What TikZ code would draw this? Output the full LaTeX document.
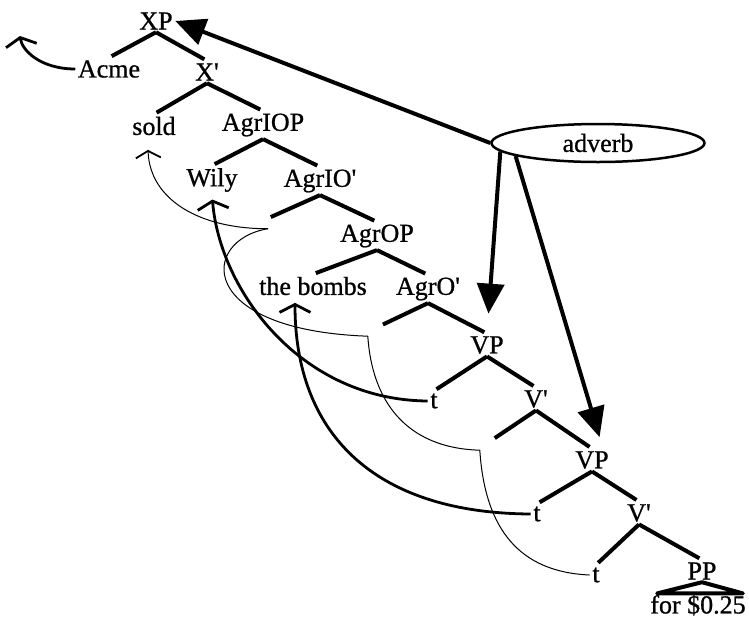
\documentclass[tikz,border=0pt]{standalone}
\usepackage{fontspec}
\setmainfont{Liberation Serif}
\newfontfamily\treefont{Liberation Serif}[FakeBold=0.8]
\usepackage{tikz}
\usetikzlibrary{arrows.meta,
	shapes.geometric
}
\tikzset{syntree/.style = {
		every node/.style = {inner sep=2.5pt, font=\treefont\fontsize{26}{30}\selectfont},
		branch/.style = {line width=4pt, shorten >=3pt},
		headgap/.style = {inner sep=0pt, minimum width=12pt, minimum height=10pt},
		headmove/.style = {line width=1pt},
		phrasemove/.style = {line width=2.8pt, -{Straight Barb[length=8pt,width=31pt]}},
		adverbial/.style = {ellipse, draw, line width=2.5pt, minimum width=213pt, minimum height=38pt},
		adverbarrow/.style = {line width=4pt, -{Triangle[length=30pt,width=27pt]}},
	}% end of syntree style
}

\begin{document}
\begin{tikzpicture}[syntree,x=1pt,y=-1pt]
  \useasboundingbox (0,0) rectangle (749,622);

  \node (XP) at (156,21) {XP};
  \node (Acme) at (109,69) {Acme};
  \node (Xbar) at (207,72) {X\textquotesingle};
  \draw[branch] (XP.south) -- (Acme.north);
  \draw[branch] (XP.south) -- (Xbar.north);

  \node (sold) at (154,126) {sold};
  \node (AgrIOP) at (263,125) {AgrIOP};
  \draw[branch] (Xbar.south) -- (sold.north);
  \draw[branch] (Xbar.south) -- (AgrIOP.north);

  \node (Wily) at (212,180) {Wily};
  \node (AgrIObar) at (320,181) {AgrIO\textquotesingle};
  \draw[branch] (AgrIOP.south) -- (Wily.north);
  \draw[branch] (AgrIOP.south) -- (AgrIObar.north);

  \node[headgap] (AgrIOhead) at (268,223.5) {};
  \node (AgrOP) at (377,236) {AgrOP};
  \draw[branch] (AgrIObar.south) -- (AgrIOhead.north);
  \draw[branch] (AgrIObar.south) -- (AgrOP.north);

  \node (bombs) at (313,286) {the bombs};
  \node (AgrObar) at (428,289) {AgrO\textquotesingle};
  \draw[branch] (AgrOP.south) -- (bombs.north);
  \draw[branch] (AgrOP.south) -- (AgrObar.north);

  \node[headgap] (AgrOhead) at (374,331) {};
  \node (VP1) at (487,345) {VP};
  \draw[branch] (AgrObar.south) -- (AgrOhead.north east);
  \draw[branch] (AgrObar.south) -- (VP1.north);

  \node (t1) at (434,401) {t};
  \node (Vbar1) at (536,399) {V\textquotesingle};
  \draw[branch] (VP1.south) -- (t1.north);
  \draw[branch] (VP1.south) -- (Vbar1.north);

  \node[headgap] (Vhead) at (486,445) {};
  \node (VP2) at (592,460) {VP};
  \draw[branch] (Vbar1.south) -- (Vhead.north east);
  \draw[branch] (Vbar1.south) -- (VP2.north);

  \node (t2) at (537,514) {t};
  \node (Vbar2) at (639,513) {V\textquotesingle};
  \draw[branch] (VP2.south) -- (t2.north);
  \draw[branch] (VP2.south) -- (Vbar2.north);

  \node (t3) at (596,575) {t};
  \node (PP) at (702,571) {PP};
  \draw[branch] (Vbar2.south) -- (t3.north);
  \draw[branch] (Vbar2.south) -- (PP.north);

  \node[inner sep=1pt] (price) at (698,605) {for \$0.25};
  \draw[branch, shorten >=0pt, line join=round] (PP.south) -- ([xshift=8pt]price.north west) -- ([xshift=-4pt]price.north east) -- cycle;

  % adverb and what it may attach to
  \node[adverbial] (adv) at (598,143) {adverb};
  \draw[adverbarrow] (adv.west) -- (XP.east);
  \draw[adverbarrow, shorten >=20pt] (adv.185) -- (VP1.north);
  \draw[adverbarrow, shorten >=12pt] (adv.189) -- ([xshift=11pt]VP2.north);

  % phrasal movement
  \coordinate (Acmetop) at (20,36);
  \draw[phrasemove] (Acme.west) .. controls (40,69) and (22,50) .. (Acmetop);
  \draw[phrasemove, shorten >=5pt] (t1.west) .. controls (300,400) and (220,290) .. (Wily.south);
  \draw[phrasemove, shorten >=5pt] (t2.west) .. controls (370,513) and (295,430) .. ([xshift=-18pt]bombs.south);

  % head movement of the verb
  \draw[headmove, -{Straight Barb[length=7pt,width=25pt,line width=1.8pt]}] (AgrIOhead.south) .. controls (200,229) and (150,200) .. ([xshift=-6pt,yshift=-12pt]sold.south);
  \draw[headmove] (AgrIOhead.south) .. controls (200,240) and (195,330) .. (AgrOhead.south west);
  \draw[headmove] (AgrOhead.south west) .. controls (372,400) and (405,448) .. (Vhead.south west);
  \draw[headmove] (Vhead.south west) .. controls (485,530) and (520,572) .. (t3.west);
\end{tikzpicture}
\end{document}
